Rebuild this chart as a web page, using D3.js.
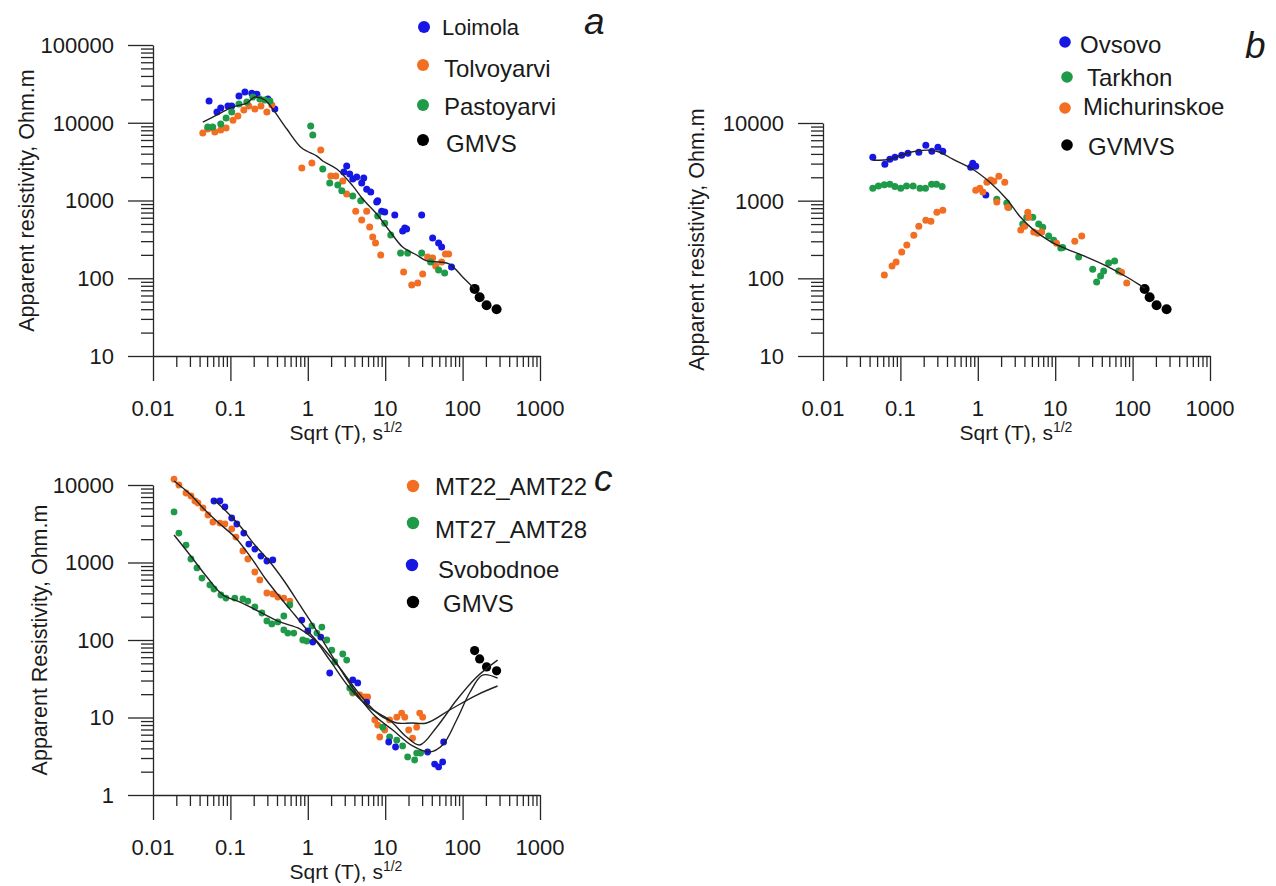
<!DOCTYPE html>
<html>
<head>
<meta charset="utf-8">
<script src="https://cdn.jsdelivr.net/npm/d3@7"></script>
<style>
  body { margin: 0; background: #fff; }
  text { font-family: "Liberation Sans", Arial, Helvetica, sans-serif; fill: #1a1a1a; }
</style>
</head>
<body>
<script>
// Axis tick labels
const xTickLabels = ["0.01", "0.1", "1", "10", "100", "1000"];
const yTickLabelsA = ["10", "100", "1000", "10000", "100000"];
const yTickLabelsB = ["10", "100", "1000", "10000"];
const yTickLabelsC = ["1", "10", "100", "1000", "10000"];

// Points are [sqrt(T) in s^1/2, apparent resistivity in Ohm.m]
// Panel a
const loimola = [[0.053,19000],[0.067,13700],[0.075,15500],[0.093,16400],[0.104,16400],[0.129,22100],[0.154,24800],[0.189,24000],[0.22,23300],[0.305,20200],[0.375,15000],
  [3.18,2780],[2.92,2330],[3.48,2190],[3.81,1890],[4.29,2010],[5.28,1950],[4.97,1680],[5.77,1400],[6.5,1290],[7.77,960],[8.0,990],[9.0,730],[9.86,710],[13.3,650],
  [17.9,443],[16.8,405],[18.9,430],[29.6,650],[41,330],[49,284],[53.6,252],[72,140]];
const tolvoyarvi = [[0.044,7380],[0.051,8310],[0.059,8560],[0.063,7600],[0.075,8070],[0.088,8560],[0.108,10800],[0.125,12200],[0.149,14600],[0.173,16400],[0.207,15000],[0.248,16400],[0.296,13700],[0.343,16900],
  [0.837,2620],[1.13,3030],[1.47,4460],[1.98,2070],[2.3,2070],[2.83,1780],[3.18,1210],[4.16,730],[4.97,560],[5.77,730],[6.3,456],[6.9,340],[7.5,284],[8.75,199],
  [17.3,120],[22,82],[26.3,87],[30.5,113],[35.3,188],[41,182],[44.9,144],[53.6,162],[60,205],[66,205]];
const pastoyarvi = [[0.051,8820],[0.059,8820],[0.075,9640],[0.088,11500],[0.104,13700],[0.129,17400],[0.163,18500],[0.195,21400],[0.24,20200],[0.279,19600],[0.324,19000],
  [1.09,9080],[1.16,6950],[1.56,2540],[1.92,1680],[2.44,1580],[2.75,1330],[3.81,1140],[4.83,990],[8.0,630],[9.86,510],[11.8,360],[15.8,211],[19.5,211],[29.6,211],[38.6,162],[49,128],[58.6,117]];
const gmvs = [[143,73],[166,57],[204,45],[275,40]];
const fitA = [[0.044,10200],[0.067,12600],[0.108,16000],[0.163,17900],[0.207,21400],[0.279,19600],[0.353,15000],[0.536,8300],[0.837,4730],[1.31,3730],[1.56,3220],[2.37,2540],
  [3.81,1540],[5.13,1045],[7.77,670],[11.4,405],[16.8,252],[25.5,199],[34.3,167],[50.5,162],[68,152],[100,104],[143,73]];

// Panel b
const ovsovo = [[0.044,3620],[0.063,2950],[0.073,3420],[0.085,3620],[0.104,3850],[0.125,4080],[0.173,4200],[0.213,5170],[0.255,4330],[0.305,4880],[0.353,4330],
  [0.81,2700],[0.86,3030],[0.94,2780],[1.27,1180]];
const tarkhon = [[0.044,1450],[0.052,1550],[0.062,1600],[0.073,1630],[0.085,1520],[0.101,1450],[0.12,1550],[0.146,1550],[0.179,1450],[0.211,1450],[0.253,1630],[0.293,1630],[0.346,1520],
  [1.76,1045],[2.37,930],[2.51,825],[3.81,500],[4.29,610],[5.13,610],[6.12,500],[6.9,456],[8.24,350],[9.57,310],[11.8,245],[12.5,250],[20.1,188],
  [30.5,131],[34.3,90],[38.6,107],[42.3,124],[49,157],[58.6,167],[66,124]];
const michurinskoe = [[0.062,110],[0.078,144],[0.088,162],[0.104,218],[0.121,268],[0.149,360],[0.173,470],[0.213,560],[0.248,545],[0.296,710],[0.353,755],
  [0.94,1365],[1.06,1450],[1.16,1290],[1.31,1730],[1.47,1840],[1.61,1780],[1.87,2070],[2.23,1730],[1.76,960],[2.44,825],[3.59,420],[4.04,470],[4.42,710],[4.55,610],
  [5.28,394],[5.94,382],[6.7,394],[10.4,284],[17.9,301],[22,350],[72,120],[84,87]];
const fitB = [[0.044,3320],[0.073,3420],[0.133,4200],[0.24,4460],[0.324,4200],[0.475,3420],[0.86,2540],[1.43,1730],[2.37,1045],[3.48,630],[5.13,430],[8.5,301],
  [14.1,238],[25.5,188],[46.2,144],[84,104],[143,75]];

// Panel c
const mt22 = [[0.0187,11900],[0.0216,10000],[0.0267,7880],[0.0309,7210],[0.0348,6220],[0.0381,5860],[0.0442,5050],[0.0513,4100],[0.0594,3330],[0.0732,3230],[0.0849,3140],
  [0.104,2710],[0.118,2130],[0.145,1410],[0.168,1110],[0.207,754],[0.24,595],[0.296,404],[0.353,392],[0.41,359],[0.49,348],[0.586,318],
  [3.81,20.7],[4.69,19.5],[5.43,18.4],[5.94,18.4],[7.33,9.3],[8.0,8.0],[8.5,5.6],[9.86,6.9],[11.4,9.3],[14.1,10.1],[16.3,11.4],[17.9,10.1],[20.1,6.9],[22.6,5.4],[25.5,7.5],[27.9,11.4],[30.5,10.1]];
const mt27 = [[0.0187,4490],[0.0216,2400],[0.0267,1680],[0.0309,1110],[0.037,850],[0.0429,630],[0.0543,513],[0.0613,455],[0.0754,381],[0.0875,348],[0.114,348],[0.145,338],
  [0.168,318],[0.207,267],[0.255,223],[0.296,176],[0.343,161],[0.41,171],[0.49,204],[0.586,283],[0.49,135],[0.552,123],[0.659,123],[0.861,100],[0.97,97],[1.13,152],
  [1.52,147],[1.31,123],[1.76,100],[2.04,74],[2.23,52],[2.83,66],[3.18,55],[3.48,24],[3.81,21.3],[9.3,7.5],[11.4,5.6],[14.1,5.1],[16.8,4.3],[19.5,3.1],[24,2.83],[25.5,3.48],[28.7,3.48]];
const svobodnoe = [[0.0613,6220],[0.0732,6220],[0.0849,5200],[0.104,3750],[0.121,3140],[0.149,2400],[0.173,1730],[0.207,1490],[0.248,1210],[0.296,1045],[0.353,1080],
  [0.837,181],[1.0,131],[1.16,94],[1.47,109],[1.92,37.5],[3.81,30.5],[4.42,27.9],[5.77,15.8],[11.1,4.83],[13.6,4.16],[35.3,3.59],[43.5,2.51],[49,2.3],[55.2,2.67],[56.9,4.83]];
const fitMT22 = [[0.0187,11270],[0.030,7650],[0.0469,4760],[0.0732,3140],[0.114,2130],[0.179,1210],[0.279,631],[0.435,359],[0.679,210],[1.06,123],[1.66,74],[2.59,43.5],
  [4.04,24],[6.31,14.1],[9.29,10.1],[14.1,8.5],[22,8.5],[34.3,8.5],[68,12.5],[152,19.5],[283,25.5]];
const fitMT27 = [[0.0187,2260],[0.030,1250],[0.0497,650],[0.08,381],[0.133,309],[0.24,230],[0.435,171],[0.788,139],[1.23,100],[1.92,55],[3.48,24],[6.31,13.3],
  [11.4,9.29],[18.9,5.6],[27.9,4.42],[46.2,7.5],[83.7,16.8],[152,33.3],[283,55]];
const fitSvobodnoe = [[0.0613,6400],[0.0849,4760],[0.133,2960],[0.207,1680],[0.324,1015],[0.505,560],[0.788,283],[1.23,143],[1.92,70],[3.0,34.3],[4.69,17.9],[7.33,10.5],
  [12.5,6.9],[22.6,4.29],[37.5,3.59],[55.2,4.42],[83.7,9.29],[123,20.7],[181,35.3],[283,32.3]];

const BLUE = "#1717e3", ORANGE = "#f26e22", GREEN = "#1e9a48", BLACK = "#000";
const AXIS = "#262626";

const svg = d3.select("body").append("svg")
  .attr("width", 1276).attr("height", 886)
  .style("background", "#fff");

function drawPanel(p) {
  const g = svg.append("g");
  const x = d3.scaleLog().domain([0.01, 1000]).range([p.x0, p.x0 + 387]);
  const y = d3.scaleLog().domain(p.yDomain).range([p.axisY, p.yTop]);

  const xMajor = xTickLabels.map(Number);
  const yMajor = p.yLabels.map(Number);
  const isMajor = (list, v) => list.some(m => Math.abs(m - v) / m < 1e-6);
  const xMinor = x.ticks().filter(v => !isMajor(xMajor, v));
  const yMinor = y.ticks().filter(v => !isMajor(yMajor, v));

  const styleAxis = sel => {
    sel.attr("color", AXIS);
    sel.selectAll("path, line").attr("stroke-width", 1.3);
  };

  // x axis: long major ticks, short minor ticks, both pointing down
  g.append("g").attr("transform", `translate(0,${p.axisY})`)
    .call(d3.axisBottom(x).tickValues(xMajor).tickSize(25).tickSizeOuter(0).tickFormat(""))
    .call(styleAxis);
  g.append("g").attr("transform", `translate(0,${p.axisY})`)
    .call(d3.axisBottom(x).tickValues(xMinor).tickSize(11).tickSizeOuter(0).tickFormat(""))
    .call(styleAxis).call(s => s.select(".domain").remove());

  // y axis: ticks pointing left
  g.append("g").attr("transform", `translate(${p.x0},0)`)
    .call(d3.axisLeft(y).tickValues(yMajor).tickSize(25).tickSizeOuter(0).tickFormat(""))
    .call(styleAxis);
  g.append("g").attr("transform", `translate(${p.x0},0)`)
    .call(d3.axisLeft(y).tickValues(yMinor).tickSize(12).tickSizeOuter(0).tickFormat(""))
    .call(styleAxis).call(s => s.select(".domain").remove());

  // tick labels
  g.append("g").selectAll("text").data(xTickLabels).join("text")
    .attr("x", d => x(+d)).attr("y", p.axisY + 60)
    .attr("text-anchor", "middle").style("font-size", "22px")
    .text(d => d);
  g.append("g").selectAll("text").data(p.yLabels).join("text")
    .attr("x", p.x0 - 39).attr("y", d => y(+d)).attr("dy", "0.36em")
    .attr("text-anchor", "end").style("font-size", "22px")
    .text(d => d);

  // axis titles
  const xt = g.append("text")
    .attr("x", p.x0 + 193).attr("y", p.axisY + 84)
    .attr("text-anchor", "middle").style("font-size", "21px");
  xt.append("tspan").text("Sqrt (T), s");
  xt.append("tspan").attr("dy", -8).style("font-size", "14px").text("1/2");

  g.append("text")
    .attr("transform", `translate(${p.titleX},${(p.axisY + p.yTop) / 2}) rotate(-90)`)
    .attr("text-anchor", "middle").style("font-size", "21.5px")
    .text(p.yTitle);

  // measured points
  p.series.forEach(s => {
    g.append("g").selectAll("circle").data(s.data).join("circle")
      .attr("cx", d => x(d[0])).attr("cy", d => y(d[1]))
      .attr("r", s.r).attr("fill", s.color);
  });

  // model curves
  const line = d3.line().x(d => x(d[0])).y(d => y(d[1])).curve(d3.curveCatmullRom.alpha(0.5));
  p.fits.forEach(f => {
    g.append("path").attr("d", line(f))
      .attr("fill", "none").attr("stroke", "#222").attr("stroke-width", 1.4);
  });

  // legend
  p.legend.forEach(it => {
    g.append("circle").attr("cx", it.cx).attr("cy", it.cy).attr("r", it.r).attr("fill", it.color);
    g.append("text").attr("x", it.tx).attr("y", it.ty).style("font-size", it.fs + "px").text(it.name);
  });

  // panel letter
  g.append("text").attr("x", p.letter.x).attr("y", p.letter.y)
    .style("font-size", "37px").style("font-style", "italic")
    .text(p.letter.t);
}

drawPanel({
  x0: 153, axisY: 356, yTop: 45, yDomain: [10, 100000], yLabels: yTickLabelsA,
  yTitle: "Apparent resistivity, Ohm.m", titleX: 34,
  series: [
    { data: loimola, color: BLUE, r: 3.5 },
    { data: tolvoyarvi, color: ORANGE, r: 3.5 },
    { data: pastoyarvi, color: GREEN, r: 3.5 },
    { data: gmvs, color: BLACK, r: 5 }
  ],
  fits: [fitA],
  legend: [
    { name: "Loimola", color: BLUE, cx: 424, cy: 27, r: 6, tx: 442, ty: 35, fs: 22 },
    { name: "Tolvoyarvi", color: ORANGE, cx: 423, cy: 65, r: 6, tx: 444, ty: 77, fs: 24 },
    { name: "Pastoyarvi", color: GREEN, cx: 423, cy: 105, r: 6, tx: 444, ty: 115, fs: 24 },
    { name: "GMVS", color: BLACK, cx: 423, cy: 140, r: 6, tx: 446, ty: 152, fs: 24 }
  ],
  letter: { t: "a", x: 584, y: 34 }
});

drawPanel({
  x0: 823, axisY: 356, yTop: 123, yDomain: [10, 10000], yLabels: yTickLabelsB,
  yTitle: "Apparent resistivity, Ohm.m", titleX: 704,
  series: [
    { data: ovsovo, color: BLUE, r: 3.5 },
    { data: tarkhon, color: GREEN, r: 3.5 },
    { data: michurinskoe, color: ORANGE, r: 3.5 },
    { data: gmvs, color: BLACK, r: 5 }
  ],
  fits: [fitB],
  legend: [
    { name: "Ovsovo", color: BLUE, cx: 1065, cy: 42, r: 5.8, tx: 1080, ty: 53, fs: 24 },
    { name: "Tarkhon", color: GREEN, cx: 1067, cy: 77, r: 5.8, tx: 1087, ty: 86, fs: 24 },
    { name: "Michurinskoe", color: ORANGE, cx: 1065, cy: 108, r: 5.8, tx: 1083, ty: 115, fs: 24 },
    { name: "GVMVS", color: BLACK, cx: 1067, cy: 145, r: 5.8, tx: 1088, ty: 155, fs: 24 }
  ],
  letter: { t: "b", x: 1245, y: 58 }
});

drawPanel({
  x0: 153, axisY: 795, yTop: 485, yDomain: [1, 10000], yLabels: yTickLabelsC,
  yTitle: "Apparent Resistivity, Ohm.m", titleX: 47,
  series: [
    { data: mt22, color: ORANGE, r: 3.4 },
    { data: mt27, color: GREEN, r: 3.4 },
    { data: svobodnoe, color: BLUE, r: 3.4 },
    { data: gmvs, color: BLACK, r: 4.6 }
  ],
  fits: [fitMT22, fitMT27, fitSvobodnoe],
  legend: [
    { name: "MT22_AMT22", color: ORANGE, cx: 413, cy: 486, r: 6.2, tx: 435, ty: 495, fs: 24 },
    { name: "MT27_AMT28", color: GREEN, cx: 413, cy: 523, r: 6.2, tx: 435, ty: 538, fs: 24 },
    { name: "Svobodnoe", color: BLUE, cx: 412, cy: 565, r: 6.2, tx: 438, ty: 578, fs: 24 },
    { name: "GMVS", color: BLACK, cx: 413, cy: 602, r: 6.2, tx: 443, ty: 612, fs: 24 }
  ],
  letter: { t: "c", x: 594, y: 491 }
});
</script>
</body>
</html>
